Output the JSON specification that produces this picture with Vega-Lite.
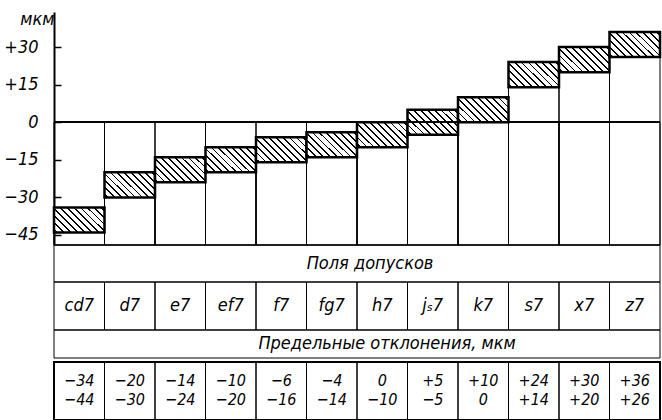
{
  "$schema": "https://vega.github.io/schema/vega-lite/v6.json",
  "padding": {"left": 3, "top": 10, "right": 2, "bottom": 0},
  "background": "white",
  "spacing": 0,
  "bounds": "flush",
  "config": {
    "font": "'Liberation Sans Narrow', 'DejaVu Sans Condensed', 'Liberation Sans', sans-serif",
    "view": {"stroke": "black", "strokeWidth": 1},
    "text": {"fontStyle": "italic", "fontSize": 18, "color": "black", "font": "'Liberation Sans Narrow', 'DejaVu Sans Condensed', 'Liberation Sans', sans-serif"}
  },
  "datasets": {
    "fits": [
      {"name": "cd7", "upper": -34, "lower": -44},
      {"name": "d7", "upper": -20, "lower": -30},
      {"name": "e7", "upper": -14, "lower": -24},
      {"name": "ef7", "upper": -10, "lower": -20},
      {"name": "f7", "upper": -6, "lower": -16},
      {"name": "fg7", "upper": -4, "lower": -14},
      {"name": "h7", "upper": 0, "lower": -10},
      {"name": "jₛ7", "upper": 5, "lower": -5},
      {"name": "k7", "upper": 10, "lower": 0},
      {"name": "s7", "upper": 24, "lower": 14},
      {"name": "x7", "upper": 30, "lower": 20},
      {"name": "z7", "upper": 36, "lower": 26}
    ]
  },
  "vconcat": [
    {
      "width": 606,
      "height": 233,
      "view": {"stroke": null},
      "data": {"name": "fits"},
      "layer": [
        {
          "mark": {"type": "rect", "fillOpacity": 0, "stroke": "black", "strokeWidth": 1},
          "encoding": {
            "x": {"field": "name", "type": "nominal", "sort": null, "scale": {"type": "band", "paddingInner": 0, "paddingOuter": 0}, "axis": null},
            "y": {"datum": 0, "type": "quantitative", "scale": {"domain": [-49, 44], "nice": false, "zero": false},
              "axis": {
                "values": [30, 15, 0, -15, -30, -45],
                "labelExpr": "datum.value > 0 ? '+' + datum.value : (datum.value < 0 ? '−' + abs(datum.value) : '0')",
                "grid": false,
                "domainColor": "black", "domainWidth": 2,
                "tickColor": "black", "tickSize": -7, "tickWidth": 1.5,
                "labelFontSize": 18, "labelFontStyle": "italic", "labelColor": "black", "labelPadding": 23,
                "labelFont": "'Liberation Sans Narrow', 'DejaVu Sans Condensed', 'Liberation Sans', sans-serif",
                "title": "мкм", "titleAngle": 0, "titleX": 0, "titleY": 7, "titleAlign": "right", "titleBaseline": "middle",
                "titleFontSize": 18, "titleFontStyle": "italic", "titleFontWeight": "normal", "titleColor": "black",
                "titleFont": "'Liberation Sans Narrow', 'DejaVu Sans Condensed', 'Liberation Sans', sans-serif"
              }
            },
            "y2": {"datum": -49}
          }
        },
        {
          "mark": {"type": "rect", "fillOpacity": 0, "stroke": "black", "strokeWidth": 1},
          "encoding": {
            "x": {"field": "name", "type": "nominal", "sort": null},
            "y": {"field": "lower", "type": "quantitative"},
            "y2": {"datum": -49}
          }
        },
        {
          "mark": {
            "type": "rect", "stroke": "black", "strokeWidth": 2.5,
            "fill": {
              "gradient": "linear", "x1": 0, "y1": 1, "x2": 1.2, "y2": 0.4,
              "stops": [
                {"offset": 0, "color": "white"},
                {"offset": 0.0336, "color": "white"}, {"offset": 0.0336, "color": "black"}, {"offset": 0.0573, "color": "black"}, {"offset": 0.0573, "color": "white"},
                {"offset": 0.1245, "color": "white"}, {"offset": 0.1245, "color": "black"}, {"offset": 0.1482, "color": "black"}, {"offset": 0.1482, "color": "white"},
                {"offset": 0.2155, "color": "white"}, {"offset": 0.2155, "color": "black"}, {"offset": 0.2391, "color": "black"}, {"offset": 0.2391, "color": "white"},
                {"offset": 0.3064, "color": "white"}, {"offset": 0.3064, "color": "black"}, {"offset": 0.3300, "color": "black"}, {"offset": 0.3300, "color": "white"},
                {"offset": 0.3973, "color": "white"}, {"offset": 0.3973, "color": "black"}, {"offset": 0.4209, "color": "black"}, {"offset": 0.4209, "color": "white"},
                {"offset": 0.4882, "color": "white"}, {"offset": 0.4882, "color": "black"}, {"offset": 0.5118, "color": "black"}, {"offset": 0.5118, "color": "white"},
                {"offset": 0.5791, "color": "white"}, {"offset": 0.5791, "color": "black"}, {"offset": 0.6027, "color": "black"}, {"offset": 0.6027, "color": "white"},
                {"offset": 0.6700, "color": "white"}, {"offset": 0.6700, "color": "black"}, {"offset": 0.6936, "color": "black"}, {"offset": 0.6936, "color": "white"},
                {"offset": 0.7609, "color": "white"}, {"offset": 0.7609, "color": "black"}, {"offset": 0.7845, "color": "black"}, {"offset": 0.7845, "color": "white"},
                {"offset": 0.8518, "color": "white"}, {"offset": 0.8518, "color": "black"}, {"offset": 0.8755, "color": "black"}, {"offset": 0.8755, "color": "white"},
                {"offset": 0.9427, "color": "white"}, {"offset": 0.9427, "color": "black"}, {"offset": 0.9664, "color": "black"}, {"offset": 0.9664, "color": "white"},
                {"offset": 1, "color": "white"}
              ]
            }
          },
          "encoding": {
            "x": {"field": "name", "type": "nominal", "sort": null},
            "y": {"field": "upper", "type": "quantitative"},
            "y2": {"field": "lower"}
          }
        },
        {
          "mark": {"type": "rule", "stroke": "black", "strokeWidth": 1},
          "encoding": {"y": {"datum": 0, "type": "quantitative"}}
        }
      ]
    },
    {
      "width": 606,
      "height": 37,
      "view": {"stroke": null},
      "data": {"values": [{"title": "Поля допусков"}]},
      "encoding": {
        "x": {"field": "title", "type": "nominal", "scale": {"type": "band", "paddingInner": 0, "paddingOuter": 0}, "axis": null}
      },
      "layer": [
        {"mark": {"type": "rect", "fillOpacity": 0, "stroke": "black", "strokeWidth": 1}},
        {"mark": {"type": "text", "dx": 13}, "encoding": {"text": {"field": "title"}}}
      ]
    },
    {
      "width": 606,
      "height": 48,
      "view": {"stroke": null},
      "data": {"name": "fits"},
      "encoding": {
        "x": {"field": "name", "type": "nominal", "sort": null, "scale": {"type": "band", "paddingInner": 0, "paddingOuter": 0}, "axis": null}
      },
      "layer": [
        {"mark": {"type": "rect", "fillOpacity": 0, "stroke": "black", "strokeWidth": 1}},
        {"mark": {"type": "text"}, "encoding": {"text": {"field": "name"}}}
      ]
    },
    {
      "width": 606,
      "height": 28,
      "view": {"stroke": null},
      "data": {"values": [{"title": "Предельные отклонения, мкм"}]},
      "encoding": {
        "x": {"field": "title", "type": "nominal", "scale": {"type": "band", "paddingInner": 0, "paddingOuter": 0}, "axis": null}
      },
      "layer": [
        {"mark": {"type": "rect", "fillOpacity": 0, "stroke": "black", "strokeWidth": 1}},
        {"mark": {"type": "text", "dx": 30}, "encoding": {"text": {"field": "title"}}}
      ]
    },
    {
      "width": 606,
      "height": 4,
      "view": {"stroke": null},
      "data": {"values": [{}]},
      "mark": {"type": "rule", "opacity": 0},
      "encoding": {}
    },
    {
      "width": 606,
      "height": 58,
      "view": {"stroke": "black", "strokeWidth": 2},
      "data": {"name": "fits"},
      "transform": [
        {"calculate": "datum.upper > 0 ? '+' + datum.upper : (datum.upper < 0 ? '−' + abs(datum.upper) : '0')", "as": "upperText"},
        {"calculate": "datum.lower > 0 ? '+' + datum.lower : (datum.lower < 0 ? '−' + abs(datum.lower) : '0')", "as": "lowerText"}
      ],
      "encoding": {
        "x": {"field": "name", "type": "nominal", "sort": null, "scale": {"type": "band", "paddingInner": 0, "paddingOuter": 0}, "axis": null}
      },
      "layer": [
        {"mark": {"type": "rect", "fillOpacity": 0, "stroke": "black", "strokeWidth": 1}},
        {"mark": {"type": "text", "dy": -10, "fontSize": 16}, "encoding": {"text": {"field": "upperText"}}},
        {"mark": {"type": "text", "dy": 9, "fontSize": 16}, "encoding": {"text": {"field": "lowerText"}}}
      ]
    }
  ]
}
